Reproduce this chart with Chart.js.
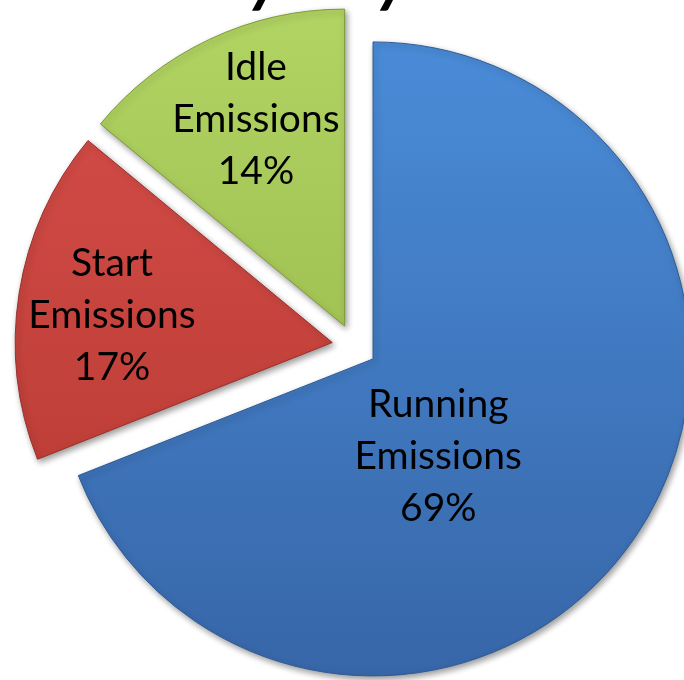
<!DOCTYPE html>
<html>
<head>
<meta charset="utf-8">
<script src="https://cdn.jsdelivr.net/npm/chart.js@4.4.0/dist/chart.umd.min.js"></script>
<style>
    html, body { margin: 0; padding: 0; background: #ffffff; }
    #wrap { width: 684px; height: 680px; position: relative; }
</style>
</head>
<body>
<div id="wrap"><canvas id="charEmissions"></canvas></div>
<script>
/* Datos */
const categories = ['Running Emissions', 'Start Emissions', 'Idle Emissions'];
const shares = [69, 17, 14];
const labelLines = [['Running', 'Emissions'], ['Start', 'Emissions'], ['Idle', 'Emissions']];
const chartTitle = 'Emissions by Day';

/* Estilo */
const topColors = ['#4b8edb', '#d94f4b', '#b2d463'];
const bottomColors = ['#3766a8', '#b2372f', '#8fb044'];
const edgeColors = ['#2f5b94', '#9a2e2a', '#7c9a38'];
const explodePx = [23, 22, 22];
const labelDist = [0.37, 0.70, 0.71];
const labelTurn = [22, -2, 2];

gradientFill = (ctx) => {
    const i = ctx.dataIndex;
    const g = ctx.chart.ctx.createLinearGradient(0, 0, 0, 680);
    g.addColorStop(0, topColors[i]);
    g.addColorStop(1, bottomColors[i]);
    return g;
};

/* Separar todas las porciones (como excel), sin agrandar el radio */
const explodePlugin = {
    id: 'explode',
    afterDatasetsUpdate(chart) {
        const meta = chart.getDatasetMeta(0);
        meta.data.forEach((arc, i) => {
            const mid = (arc.startAngle + arc.endAngle) / 2;
            arc.x += Math.cos(mid) * explodePx[i];
            arc.y += Math.sin(mid) * explodePx[i];
        });
    }
};

const shadowPlugin = {
    id: 'shadow',
    beforeDatasetsDraw(chart) {
        const c = chart.ctx;
        c.save();
        c.shadowColor = 'rgba(0,0,0,0.4)';
        c.shadowBlur = 6;
        c.shadowOffsetX = 2;
        c.shadowOffsetY = 3;
    },
    afterDatasetsDraw(chart) {
        chart.ctx.restore();
    }
};

const labelsPlugin = {
    id: 'sliceLabels',
    afterDraw(chart) {
        const c = chart.ctx;
        const meta = chart.getDatasetMeta(0);
        c.save();
        c.fillStyle = '#000000';
        c.font = '39px Lato';
        c.textAlign = 'center';
        c.textBaseline = 'middle';
        meta.data.forEach((arc, i) => {
            const mid = (arc.startAngle + arc.endAngle) / 2;
            const ang = mid + labelTurn[i] * Math.PI / 180;
            const cx = arc.x + Math.cos(ang) * arc.outerRadius * labelDist[i];
            const cy = arc.y + Math.sin(ang) * arc.outerRadius * labelDist[i];
            const lines = labelLines[i].concat([shares[i] + '%']);
            lines.forEach((t, k) => {
                c.fillText(t, cx, cy + (k - 1) * 52);
            });
        });

        /* titulo, casi todo fuera del lienzo */
        c.font = 'italic bold 66px Lato';
        c.textAlign = 'left';
        c.textBaseline = 'alphabetic';
        const yAt = chartTitle.indexOf('y');
        const pre = c.measureText(chartTitle.slice(0, yAt)).width;
        c.fillText(chartTitle, 250 - pre, -1);
        c.restore();
    }
};

const cme = document.getElementById('charEmissions');
const charEmissions = new Chart(cme, {
    type: 'pie',
    data: {
        labels: categories,
        datasets: [{
            data: shares,
            backgroundColor: gradientFill,
            borderColor: edgeColors,
            borderWidth: 1,
            hoverOffset: 0,
        }, ],
    },
    options: {
        responsive: true,
        maintainAspectRatio: false,
        animation: false,
        radius: 317,
        layout: {
            padding: { left: 24, right: 0, top: 12, bottom: 0 },
        },
        plugins: {
            legend: { display: false },
            tooltip: { enabled: false },
            title: { display: false },
        },
    },
    plugins: [explodePlugin, shadowPlugin, labelsPlugin],
});
</script>
</body>
</html>
